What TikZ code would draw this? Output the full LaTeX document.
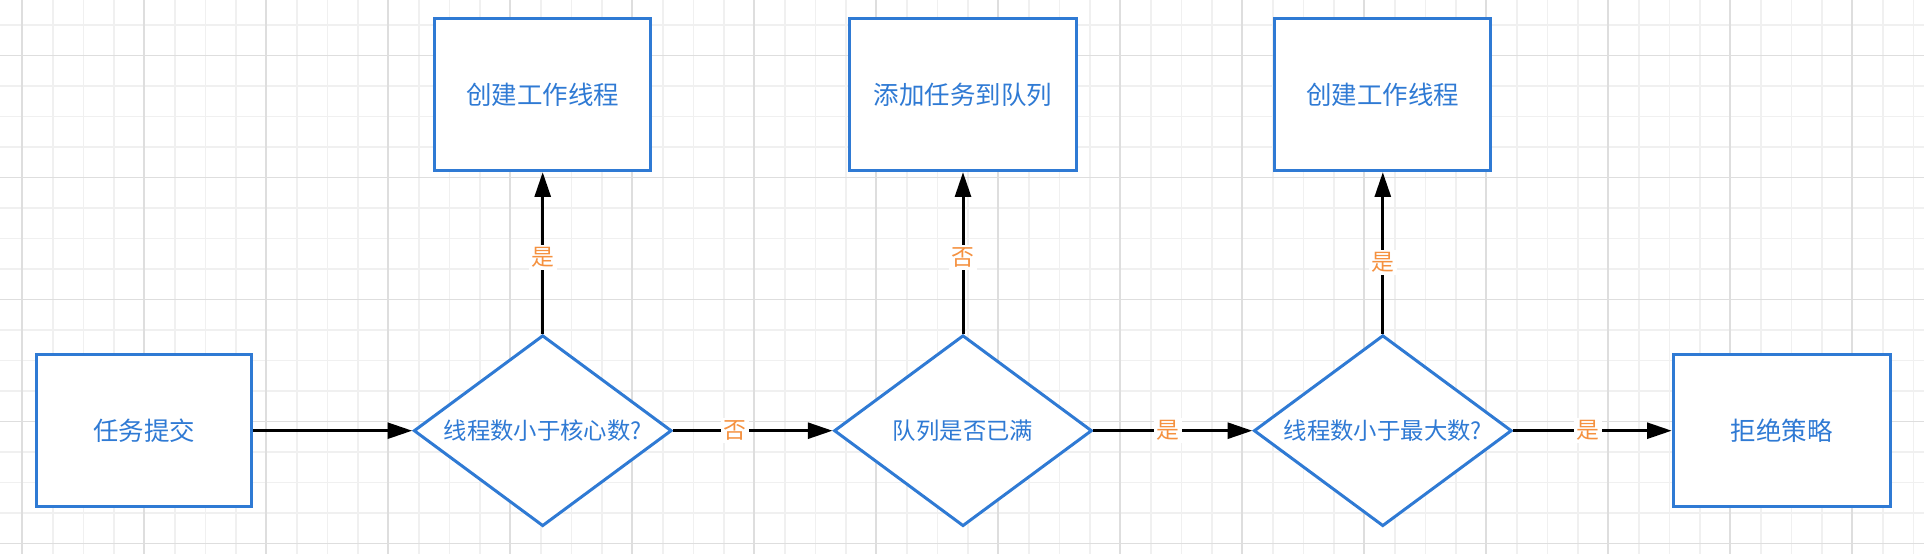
\documentclass[tikz,border=0pt]{standalone}
\usepackage{fontspec}
\setmainfont{Noto Sans CJK SC}
\usetikzlibrary{shapes.geometric}
\usetikzlibrary{arrows.meta}
\definecolor{flowblue}{HTML}{2F7AD4}
\definecolor{answerorange}{HTML}{F5913F}
\definecolor{gridmajor}{HTML}{DEDEDE}
\definecolor{gridminor}{HTML}{F0F0F0}

\begin{document}
\begin{tikzpicture}[x=0.02cm,y=-0.02cm,
  process/.style={draw=flowblue,line width=1.7pt,fill=white,text=flowblue,
    minimum width=4.32cm,minimum height=3.04cm,inner sep=0pt,
    font=\fontsize{14.5}{17}\selectfont},
  decision/.style={diamond,draw=flowblue,line width=1.7pt,fill=white,text=flowblue,
    minimum width=5.16cm,minimum height=3.82cm,inner sep=0pt,
    font=\fontsize{13.3}{16}\selectfont},
  flow/.style={line width=1.7pt,-{Triangle[length=14pt,width=9pt]}},
  answer/.style={fill=white,text=answerorange,inner sep=1.5pt,
    font=\fontsize{13}{15}\selectfont}]
  \useasboundingbox[fill=white] (0,0) rectangle (1924,554);

  %grid
  \foreach \i in {1,...,63} \draw[gridminor,line width=0.85pt] ({-8.2+30.5*\i},0) -- ({-8.2+30.5*\i},554);
  \foreach \j in {1,...,18} \draw[gridminor,line width=0.85pt] (0,{-5.5+30.5*\j}) -- (1924,{-5.5+30.5*\j});
  \foreach \i in {0,...,15} \draw[gridmajor,line width=1.1pt] ({22.3+122*\i},0) -- ({22.3+122*\i},554);
  \foreach \j in {0,...,4} \draw[gridmajor,line width=1.1pt] (0,{55.5+122*\j}) -- (1924,{55.5+122*\j});

  %boxes
  \node[process] (submit) at (144,430.7) {任务提交};
  \node[decision] (core) at (542.7,430.7) {\makebox[0pt]{线程数小于核心数?}};
  \node[process] (create1) at (542.7,94.7) {创建工作线程};
  \node[decision] (full) at (963,430.7) {\makebox[0pt]{队列是否已满}};
  \node[process,minimum width=4.56cm] (enqueue) at (963,94.7) {添加任务到队列};
  \node[decision] (max) at (1382.8,430.7) {\makebox[0pt]{线程数小于最大数?}};
  \node[process] (create2) at (1382.8,94.7) {创建工作线程};
  \node[process,minimum width=4.34cm] (reject) at (1781.7,430.7) {拒绝策略};

  %arrows
  \draw[flow] (submit) -- (core);
  \draw[flow] (core) -- node[answer,pos=0.47] {是} (create1);
  \draw[flow] (core) -- node[answer,pos=0.39] {否} (full);
  \draw[flow] (full) -- node[answer,pos=0.47] {否} (enqueue);
  \draw[flow] (full) -- node[answer,pos=0.47] {是} (max);
  \draw[flow] (max) -- node[answer,pos=0.44] {是} (create2);
  \draw[flow] (max) -- node[answer,pos=0.47] {是} (reject);
\end{tikzpicture}
\end{document}
